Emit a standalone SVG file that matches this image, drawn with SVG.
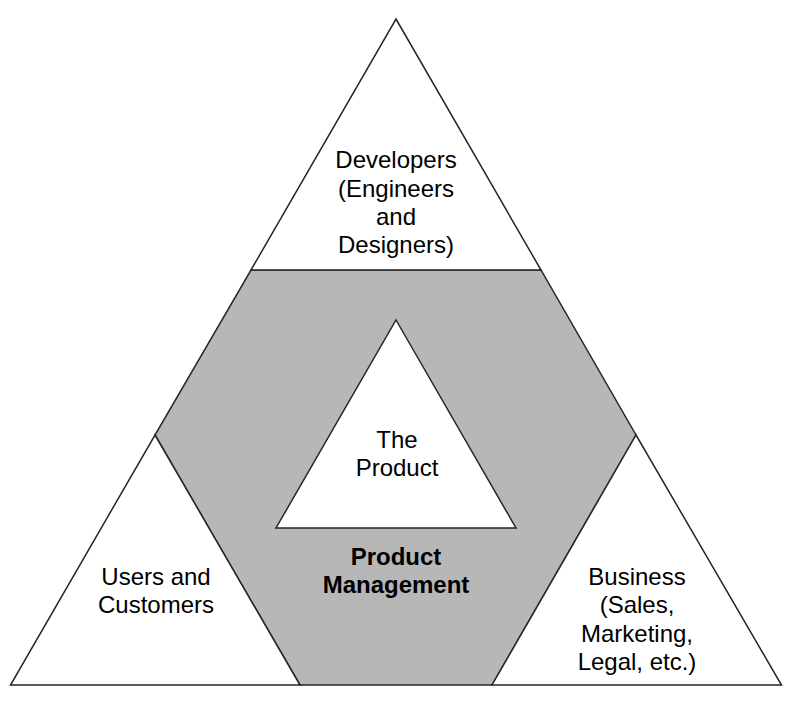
<svg xmlns="http://www.w3.org/2000/svg" width="795" height="711" viewBox="0 0 795 711">
<style>
.w{fill:#ffffff;stroke:#262626;stroke-width:1.5;stroke-linejoin:miter}
.g{fill:#b7b7b7;stroke:#262626;stroke-width:1.5}
text{font-family:"Liberation Sans",Arial,sans-serif;font-size:24px;fill:#000;text-anchor:middle}
.b{font-weight:bold}
</style>
<rect width="795" height="711" fill="#ffffff"/>
<g id="pm">
<polygon class="g" points="251,270 541,270 636,435 492,685 300,685 155,435"/>
<text class="b" x="396" y="565">Product</text>
<text class="b" x="396" y="593">Management</text>
</g>
<g id="developers">
<polygon class="w" points="396,19 541,270 251,270"/>
<text x="396" y="168">Developers</text>
<text x="396" y="197">(Engineers</text>
<text x="396" y="225">and</text>
<text x="396" y="253">Designers)</text>
</g>
<g id="users">
<polygon class="w" points="155,435 300,685 10.5,685"/>
<text x="156" y="585">Users and</text>
<text x="156" y="613">Customers</text>
</g>
<g id="business">
<polygon class="w" points="636,435 781.5,685 492,685"/>
<text x="637" y="585">Business</text>
<text x="637" y="613">(Sales,</text>
<text x="637" y="642">Marketing,</text>
<text x="637" y="670">Legal, etc.)</text>
</g>
<g id="product">
<polygon class="w" points="396,320 516,528 276,528"/>
<text x="397" y="448">The</text>
<text x="397" y="476">Product</text>
</g>
<g id="connectors"></g>
</svg>
